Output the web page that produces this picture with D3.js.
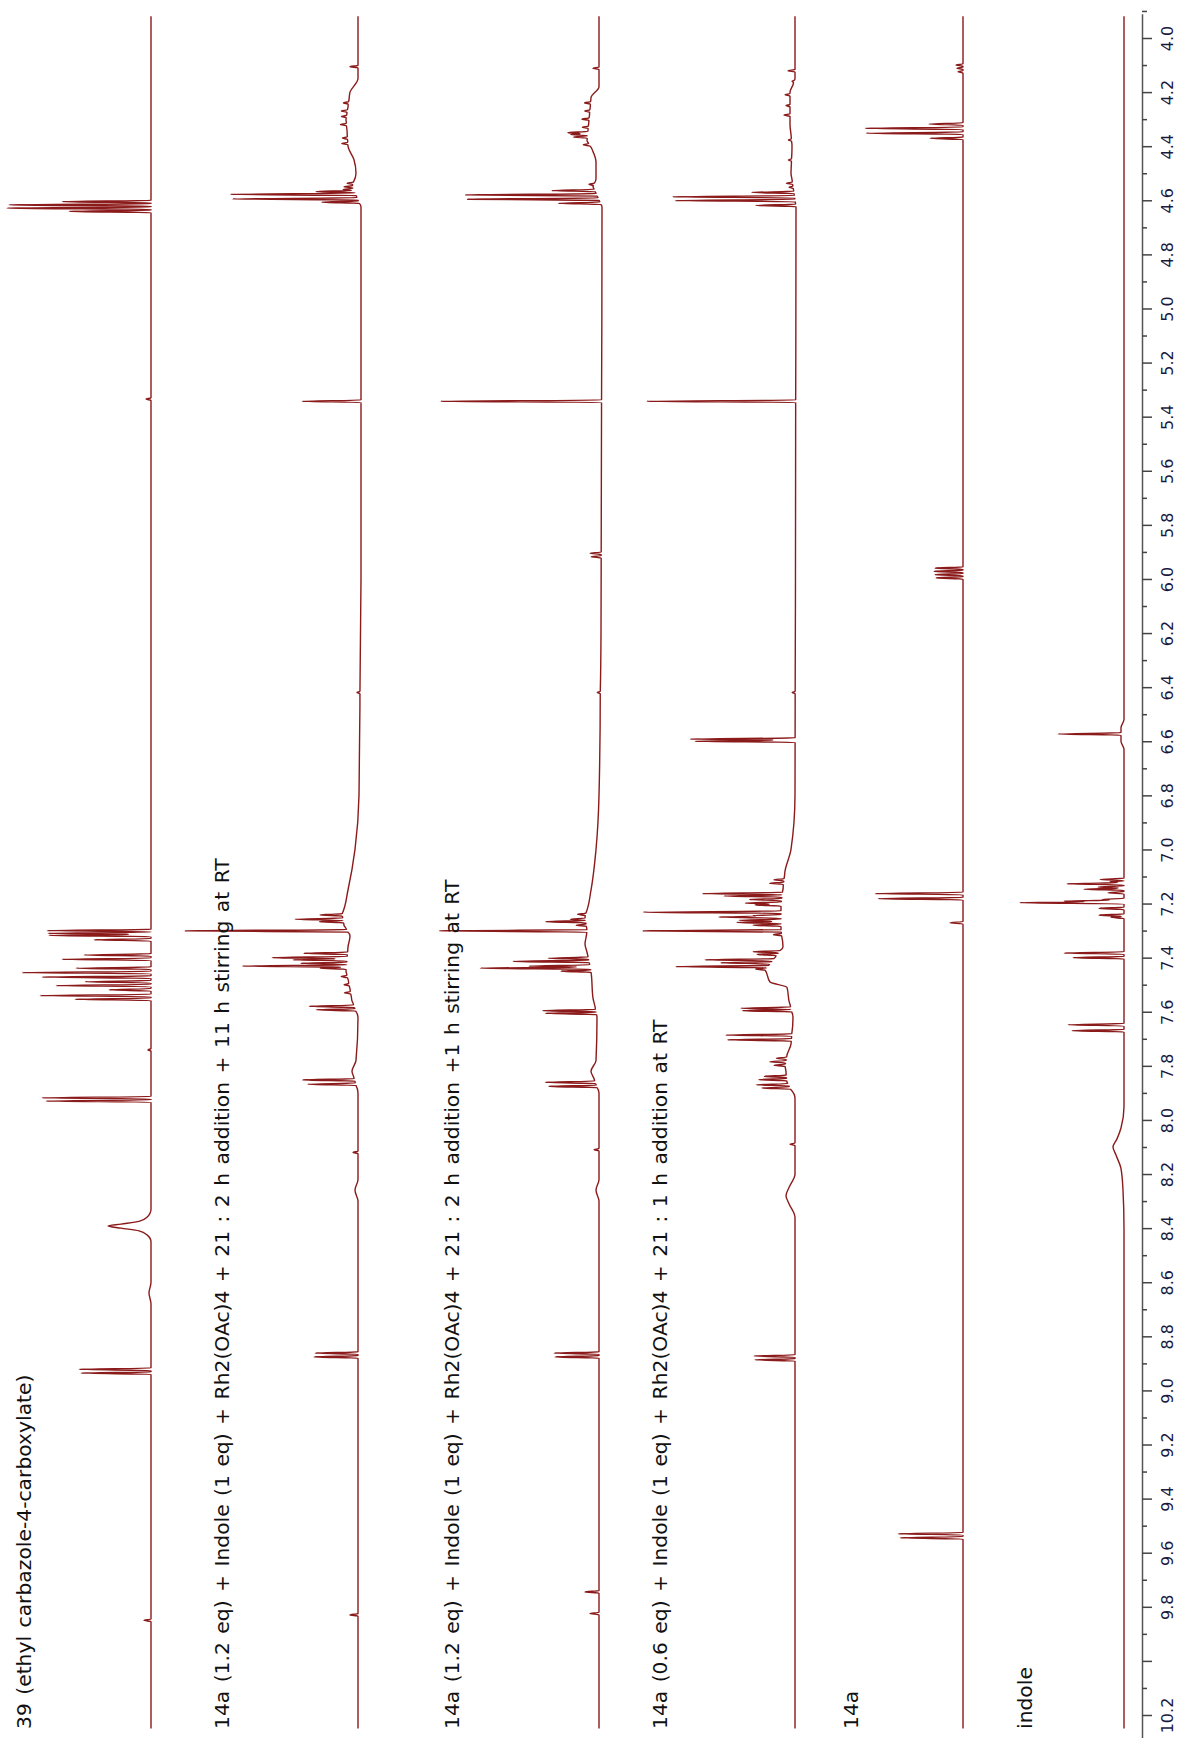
<!DOCTYPE html>
<html>
<head>
<meta charset="utf-8">
<script src="https://cdn.jsdelivr.net/npm/d3@7"></script>
<style>
  body { margin: 0; background: #fff; }
  svg { display: block; }
</style>
</head>
<body>
<svg id="chart" width="1184" height="1738"></svg>
<script>
// ---- data (ppm, intensity) ----
const traceNames = [
  "39 (ethyl carbazole-4-carboxylate)",
  "14a (1.2 eq) + Indole (1 eq) + Rh2(OAc)4 + 21 : 2 h addition + 11 h stirring at RT",
  "14a (1.2 eq) + Indole (1 eq) + Rh2(OAc)4 + 21 : 2 h addition +1 h stirring at RT",
  "14a (0.6 eq) + Indole (1 eq) + Rh2(OAc)4 + 21 : 1 h addition at RT",
  "14a",
  "indole"
];

// sharp lines: [ppm, height]
const peaksCarbazole = [
  [4.605, 89], [4.617, 142], [4.629, 144], [4.641, 82],
  [5.335, 5],
  [7.300, 104], [7.310, 103], [7.318, 102], [7.334, 57],
  [7.390, 67], [7.406, 89], [7.439, 75], [7.455, 129], [7.472, 109],
  [7.489, 66], [7.503, 95], [7.519, 42], [7.540, 111], [7.554, 76],
  [7.741, 3],
  [7.918, 109], [7.930, 105],
  [8.922, 72], [8.936, 70],
  [9.850, 7]
];
const peaksRun11h = [
  [4.106, 8],
  [4.24, 5], [4.27, 6], [4.29, 5], [4.32, 6], [4.37, 5], [4.39, 6],
  [4.537, 6], [4.550, 8], [4.560, 10],
  [4.568, 38], [4.578, 125], [4.595, 125], [4.607, 37],
  [5.343, 59],
  [6.42, 3],
  [7.242, 22], [7.258, 48], [7.267, 24], [7.301, 162],
  [7.384, 44], [7.400, 75], [7.408, 54], [7.421, 46], [7.431, 104], [7.439, 26],
  [7.47, 6], [7.50, 5], [7.53, 6],
  [7.580, 45], [7.593, 39],
  [7.852, 52], [7.868, 48],
  [8.12, 5],
  [8.862, 43], [8.876, 44],
  [9.83, 8]
];
const peaksRun1h = [
  [4.112, 6],
  [4.24, 6], [4.27, 5], [4.30, 7], [4.33, 6], [4.350, 20], [4.357, 17], [4.366, 14], [4.395, 6],
  [4.541, 5], [4.564, 43], [4.580, 131], [4.596, 131], [4.611, 42],
  [5.343, 161],
  [5.905, 11], [5.918, 10],
  [6.42, 3],
  [7.240, 8], [7.258, 15], [7.267, 40], [7.280, 10], [7.301, 148],
  [7.402, 40], [7.414, 76], [7.431, 61], [7.439, 110], [7.450, 30],
  [7.596, 53], [7.606, 51],
  [7.861, 50], [7.876, 48],
  [8.11, 5],
  [8.862, 45], [8.876, 44],
  [9.745, 14], [9.825, 9]
];
const peaksRun1hLow = [
  [4.121, 7], [4.16, 2],
  [4.21, 5], [4.25, 4], [4.285, 6], [4.377, 3], [4.451, 3],
  [4.537, 6], [4.552, 4], [4.571, 42], [4.587, 122], [4.601, 120], [4.619, 40],
  [5.343, 149],
  [6.42, 3],
  [6.592, 105], [6.600, 100],
  [7.112, 10], [7.125, 14],
  [7.163, 80], [7.172, 58], [7.185, 32], [7.198, 36], [7.205, 26],
  [7.232, 138], [7.245, 28], [7.250, 62], [7.262, 42], [7.270, 44], [7.280, 28],
  [7.301, 138], [7.315, 8],
  [7.378, 26], [7.388, 20], [7.408, 68], [7.419, 50], [7.433, 92], [7.442, 10],
  [7.587, 50], [7.596, 49],
  [7.686, 66], [7.704, 64],
  [7.772, 10], [7.785, 16], [7.798, 11],
  [7.839, 22], [7.851, 28], [7.870, 32], [7.882, 28],
  [8.09, 5],
  [8.873, 41], [8.887, 40]
];
const peaks14a = [
  [4.100, 7], [4.112, 6], [4.125, 5],
  [4.318, 34], [4.334, 98], [4.352, 97], [4.371, 33],
  [5.960, 28], [5.972, 29], [5.984, 28], [5.996, 27],
  [7.163, 88], [7.182, 85], [7.271, 13],
  [9.530, 65], [9.545, 63]
];
const peaksIndole = [
  [6.573, 63],
  [7.111, 24], [7.120, 14], [7.127, 57], [7.139, 26], [7.147, 40], [7.160, 16],
  [7.185, 22], [7.191, 60], [7.197, 104], [7.218, 25], [7.243, 25], [7.251, 13],
  [7.383, 60], [7.400, 51],
  [7.648, 56], [7.670, 52]
];

// baseline / broad features: [ppm, offset]
const baseCarbazole = [
  [3.90, 0], [8.33, 0], [8.36, 4], [8.375, 12], [8.385, 30], [8.392, 43], [8.40, 30],
  [8.41, 12], [8.425, 4], [8.45, 0], [8.60, 0], [8.64, 2], [8.68, 0], [10.30, 0]
];
const baseRun11h = [
  [3.90, 0], [4.15, 0], [4.20, 8], [4.30, 12], [4.40, 10], [4.45, 4], [4.50, 2], [4.55, 6],
  [4.625, -3], [6.00, -3], [6.80, -1], [7.00, 3], [7.15, 10], [7.24, 16], [7.28, 14],
  [7.32, 8], [7.36, 10], [7.45, 12], [7.50, 9], [7.56, 6], [7.62, 0], [7.78, 2], [7.82, 6],
  [7.90, 0], [8.22, 0], [8.26, 3], [8.30, 0], [10.30, 0]
];
const baseRun1h = [
  [3.90, 0], [4.18, 0], [4.22, 8], [4.30, 10], [4.38, 12], [4.42, 6], [4.46, 3], [4.52, 3],
  [4.55, 6], [4.625, -3], [6.20, -2], [6.80, 0], [7.00, 3], [7.15, 8], [7.25, 14], [7.30, 12],
  [7.35, 14], [7.38, 12], [7.45, 8], [7.55, 6], [7.62, 2], [7.78, 3], [7.82, 8], [7.90, 0],
  [8.22, 0], [8.26, 3], [8.30, 0], [10.30, 0]
];
const baseRun1hLow = [
  [3.90, 0], [4.15, 0], [4.20, 5], [4.32, 5], [4.40, 3], [4.50, 4], [4.625, -1], [6.80, 0],
  [7.00, 4], [7.08, 10], [7.20, 14], [7.30, 14], [7.36, 12], [7.445, 30], [7.49, 25],
  [7.51, 8], [7.56, 6], [7.62, 2], [7.72, 4], [7.76, 8], [7.80, 10], [7.86, 8], [7.92, 0],
  [8.20, 0], [8.25, 6], [8.28, 9], [8.31, 6], [8.36, 0], [10.30, 0]
];
const base14a = [[3.90, 0], [10.30, 0]];
const baseIndole = [
  [3.90, 0], [6.52, 0], [6.55, 3], [6.60, 3], [6.63, 0], [7.95, 0], [8.03, 3], [8.07, 7],
  [8.10, 11], [8.13, 8], [8.18, 3], [8.26, 1], [8.40, 0], [10.30, 0]
];

const axisLabelTicks = [4.0, 4.2, 4.4, 4.6, 4.8, 5.0, 5.2, 5.4, 5.6, 5.8, 6.0, 6.2, 6.4, 6.6,
  6.8, 7.0, 7.2, 7.4, 7.6, 7.8, 8.0, 8.2, 8.4, 8.6, 8.8, 9.0, 9.2, 9.4, 9.6, 9.8, 10.2];

const traces = [
  { peaks: peaksCarbazole, base: baseCarbazole },
  { peaks: peaksRun11h, base: baseRun11h },
  { peaks: peaksRun1h, base: baseRun1h },
  { peaks: peaksRun1hLow, base: baseRun1hLow },
  { peaks: peaks14a, base: base14a },
  { peaks: peaksIndole, base: baseIndole }
].map((t, i) => ({ ...t, name: traceNames[i] }));

// ---- layout ----
const width = 1184, height = 1738;
const baseX = [151, 358, 599, 795, 963, 1124];
const labelX = [24, 222, 452, 660, 851, 1025];
const labelBottom = 1729;
const axisX = 1142;
const span = [3.92, 10.25];
const halfWidth = 0.0045;
const color = "#8b1a1a";

const $svg = d3.select("#chart");

const y = d3.scaleLinear().domain([4.0, 10.2]).range([38, 1715]);
const amp = d3.scaleLinear().domain([0, 100]).range([0, 100]);

function tracePoints(peaks, base) {
  const drift = d3.scaleLinear()
    .domain(base.map(d => d[0]))
    .range(base.map(d => d[1]))
    .clamp(true);
  let ps = [span[0], span[1]];
  base.forEach(([p]) => { if (p > span[0] && p < span[1]) ps.push(p); });
  peaks.forEach(([p]) => ps.push(p - halfWidth, p, p + halfWidth));
  ps = Array.from(new Set(ps.map(p => +p.toFixed(5)))).sort((a, b) => a - b);
  return ps.map(p => [
    p,
    drift(p) + d3.sum(peaks, ([c, h]) => h * Math.max(0, 1 - Math.abs(p - c) / halfWidth))
  ]);
}

// Spectra
const $traces = $svg.append("g").attr("id", "traces");
traces.forEach((t, i) => {
  const line = d3.line()
    .x(d => baseX[i] - amp(d[1]))
    .y(d => y(d[0]))
    .curve(d3.curveMonotoneY);
  $traces.append("path")
    .datum(tracePoints(t.peaks, t.base))
    .attr("fill", "none")
    .attr("stroke", color)
    .attr("stroke-width", 1.4)
    .attr("stroke-linejoin", "round")
    .attr("d", line);
});

// Trace labels (rotated, reading bottom to top)
$svg.append("g").attr("id", "labels")
  .selectAll("text")
  .data(traces)
  .join("text")
    .attr("transform", (d, i) => `translate(${labelX[i] + 7},${labelBottom}) rotate(-90)`)
    .attr("font-family", "'DejaVu Sans', Verdana, sans-serif")
    .attr("font-size", 20.3)
    .attr("word-spacing", 2)
    .attr("fill", "#111")
    .text(d => d.name);

// ppm axis
const yAxisScale = d3.scaleLinear()
  .domain([3.91, 10.31])
  .range([y(3.91), y(10.31)]);
const allTicks = d3.range(39, 104).map(i => i / 10);
const isLabelled = v => axisLabelTicks.some(t => Math.abs(t - v) < 1e-6);
const isMajor = v => Math.round(v * 10) % 2 === 0;

const yAxis = d3.axisRight(yAxisScale)
  .tickValues(allTicks)
  .tickSize(10)
  .tickSizeOuter(0)
  .tickFormat(v => isLabelled(v) ? d3.format(".1f")(v) : "");

const $axis = $svg.append("g")
  .attr("id", "y-axis")
  .attr("transform", `translate(${axisX},0)`)
  .call(yAxis);

$axis.select(".domain").attr("stroke", "#555").attr("stroke-width", 1.5);
$axis.selectAll(".tick line")
  .attr("stroke", "#444")
  .attr("stroke-width", 1.5)
  .attr("x2", d => isMajor(d) ? 10 : 5);
$axis.selectAll(".tick text")
  .attr("x", null)
  .attr("dy", null)
  .attr("transform", "translate(31,0) rotate(-90)")
  .attr("text-anchor", "middle")
  .attr("font-family", "'DejaVu Sans', Verdana, sans-serif")
  .attr("font-size", 16)
  .attr("fill", "#1a1a40");
</script>
</body>
</html>
